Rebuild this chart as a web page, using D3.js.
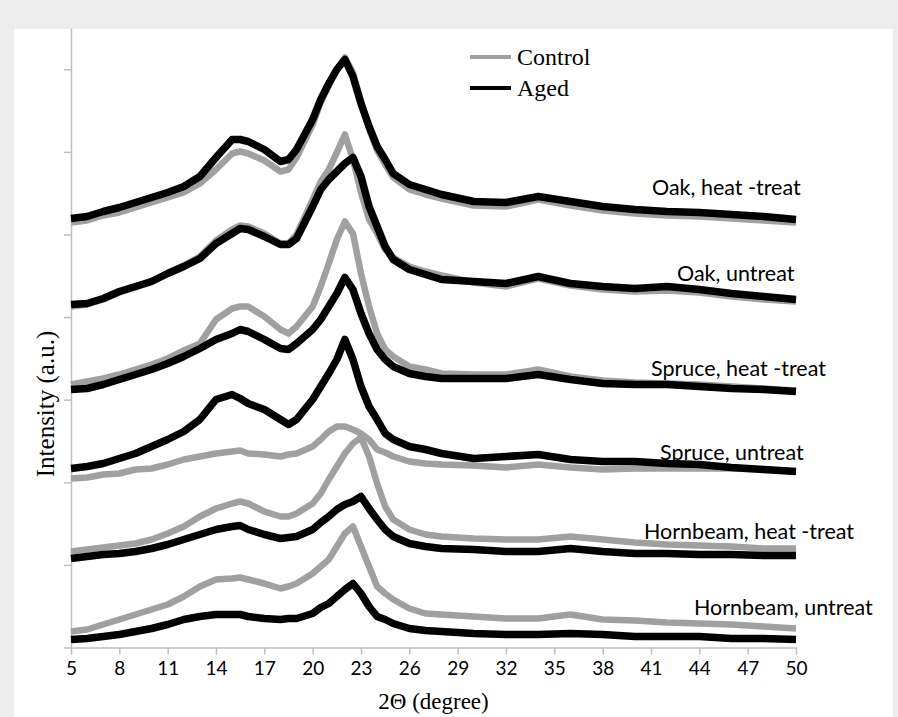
<!DOCTYPE html>
<html>
<head>
<meta charset="utf-8">
<script src="https://cdn.jsdelivr.net/npm/d3@7"></script>
<style>
  html, body { margin: 0; padding: 0; background: #ededed; }
  svg { display: block; }
</style>
</head>
<body>
<div id="chart"></div>
<script>
// 2θ positions (degree) shared by all patterns
const twoTheta = [5, 6, 7, 8, 9, 10, 11, 12, 13, 14, 15, 15.5, 16, 17, 18, 18.5, 19, 20, 20.5, 21, 21.5,
  22, 22.5, 23, 23.5, 24, 24.5, 25, 26, 27, 28, 30, 32, 34, 36, 38, 40, 42, 44, 46, 48, 50];

// intensity (a.u., stacked offsets included)
const oakHeatControl = [425, 427, 432, 435, 440, 445, 450, 455, 464, 478, 494, 496, 494, 487, 476, 478, 490, 523, 545, 562, 578,
  590, 575, 546, 519, 497, 483, 470, 458, 453, 449, 442, 441, 448, 442, 437, 434, 432, 431, 429, 427, 425];
const oakHeatAged = [429, 431, 436, 440, 445, 450, 455, 461, 471, 490, 508, 508, 506, 498, 486, 488, 498, 528, 548, 564, 578,
  588, 571, 544, 521, 501, 488, 474, 463, 458, 453, 446, 445, 451, 446, 441, 438, 436, 435, 433, 431, 428];

const oakUntreatControl = [341, 343, 348, 355, 360, 366, 374, 382, 391, 407, 418, 422, 421, 414, 404, 404, 413, 448, 466, 478, 495,
  513, 488, 455, 428, 414, 398, 390, 381, 376, 372, 365, 361, 369, 362, 358, 356, 357, 355, 351, 348, 346];
const oakUntreatAged = [343, 344, 349, 356, 361, 366, 374, 381, 389, 404, 414, 419, 418, 411, 403, 403, 409, 441, 458, 468, 476,
  484, 490, 471, 441, 421, 401, 388, 378, 373, 368, 366, 364, 371, 364, 361, 359, 361, 358, 354, 351, 348];

const spruceHeatControl = [263, 266, 269, 273, 278, 283, 289, 297, 304, 328, 339, 341, 341, 331, 318, 314, 321, 341, 361, 384, 408,
  426, 414, 374, 341, 314, 298, 291, 281, 278, 274, 273, 273, 278, 271, 267, 265, 264, 263, 261, 259, 257];
const spruceHeatAged = [258, 259, 263, 268, 273, 278, 284, 291, 299, 308, 314, 318, 316, 308, 299, 298, 304, 318, 328, 341, 354,
  370, 358, 334, 314, 298, 288, 281, 274, 271, 269, 269, 269, 273, 268, 264, 263, 263, 261, 259, 258, 256];

const spruceUntreatControl = [169, 170, 173, 174, 178, 179, 183, 188, 191, 194, 196, 197, 194, 193, 191, 193, 194, 201, 208, 216, 221,
  221, 218, 214, 208, 198, 195, 191, 186, 184, 183, 182, 180, 183, 180, 178, 179, 179, 179, 179, 178, 176];
const spruceUntreatAged = [179, 181, 184, 189, 194, 201, 208, 216, 228, 248, 253, 249, 244, 238, 228, 223, 228, 248, 261, 274, 288,
  308, 288, 261, 241, 228, 214, 208, 201, 198, 194, 189, 191, 193, 188, 186, 186, 184, 183, 180, 178, 176];

const hornbeamHeatControl = [96, 98, 100, 102, 104, 108, 114, 121, 131, 139, 144, 146, 144, 136, 131, 131, 134, 144, 154, 168, 181,
  194, 204, 210, 191, 164, 141, 128, 118, 113, 111, 109, 108, 108, 111, 108, 105, 103, 102, 101, 99, 99];
const hornbeamHeatAged = [89, 91, 93, 94, 96, 99, 103, 108, 113, 118, 121, 122, 118, 113, 109, 110, 111, 118, 125, 131, 138,
  143, 146, 151, 139, 128, 118, 111, 104, 101, 99, 98, 96, 96, 99, 96, 94, 94, 93, 93, 92, 92];

const hornbeamUntreatControl = [16, 18, 23, 28, 33, 38, 43, 51, 61, 68, 69, 70, 68, 64, 59, 61, 64, 74, 81, 88, 101,
  114, 121, 101, 81, 61, 54, 48, 39, 34, 33, 31, 29, 29, 33, 28, 27, 25, 24, 23, 21, 19];
const hornbeamUntreatAged = [8, 9, 11, 13, 16, 19, 23, 28, 31, 33, 33, 33, 31, 29, 28, 29, 29, 34, 40, 44, 51,
  58, 64, 54, 41, 31, 28, 24, 19, 17, 16, 14, 13, 13, 14, 13, 11, 11, 11, 9, 9, 8];

const sampleNames = ["Oak, heat -treat", "Oak, untreat", "Spruce, heat -treat",
  "Spruce, untreat", "Hornbeam, heat -treat", "Hornbeam, untreat"];
const controlSeries = [oakHeatControl, oakUntreatControl, spruceHeatControl,
  spruceUntreatControl, hornbeamHeatControl, hornbeamUntreatControl];
const agedSeries = [oakHeatAged, oakUntreatAged, spruceHeatAged,
  spruceUntreatAged, hornbeamHeatAged, hornbeamUntreatAged];
const legendNames = ["Control", "Aged"];
const xTicks = d3.range(5, 51, 3);

const width = 898, height = 717;
const colors = { Control: "#a0a0a0", Aged: "#000000" };
const axisColor = "#bfbfbf";

// label anchors (left x, baseline y) in px
const labelPos = [[652, 195], [677, 281], [651, 376], [660, 460], [644, 539], [694, 615]];

const svg = d3.select("#chart").append("svg")
  .attr("width", width)
  .attr("height", height);

svg.append("rect")
  .attr("x", 14).attr("y", 29)
  .attr("width", 879).attr("height", height - 29)
  .attr("fill", "#fff");

const x = d3.scaleLinear().domain([5, 50]).range([71, 796]);
const y = d3.scaleLinear().domain([0, 619.5]).range([647.5, 28]);
const yTickStep = 82.6; // unlabelled major unit

// axes
const xAxis = svg.append("g")
  .attr("transform", `translate(0,${y(0)})`)
  .call(d3.axisBottom(x).tickValues(xTicks).tickSize(7).tickSizeOuter(0).tickPadding(7));
xAxis.select(".domain").attr("stroke", axisColor).attr("stroke-width", 1.5);
xAxis.selectAll(".tick line").attr("stroke", axisColor).attr("stroke-width", 1.5);
xAxis.selectAll(".tick text")
  .attr("fill", "#000")
  .style("font-family", "Lato, sans-serif")
  .style("font-size", "19px");

const yAxis = svg.append("g")
  .attr("transform", `translate(${x(5)},0)`)
  .call(d3.axisLeft(y).tickValues(d3.range(0, 8).map(i => i * yTickStep))
    .tickSize(7).tickSizeOuter(0).tickFormat(""));
yAxis.select(".domain").attr("stroke", axisColor).attr("stroke-width", 1.5);
yAxis.selectAll(".tick line").attr("stroke", axisColor).attr("stroke-width", 1.5);

// curves
const line = d3.line()
  .x((d, i) => x(twoTheta[i]))
  .y(d => y(d));

const plot = svg.append("g");
plot.selectAll(".control")
  .data(controlSeries)
  .join("path")
  .attr("class", "control")
  .attr("d", line)
  .attr("fill", "none")
  .attr("stroke", colors.Control)
  .attr("stroke-width", 6.5)
  .attr("stroke-linejoin", "round");

plot.selectAll(".aged")
  .data(agedSeries)
  .join("path")
  .attr("class", "aged")
  .attr("d", line)
  .attr("fill", "none")
  .attr("stroke", colors.Aged)
  .attr("stroke-width", 7.5)
  .attr("stroke-linejoin", "round");

// sample labels
svg.selectAll(".sample-label")
  .data(sampleNames)
  .join("text")
  .attr("class", "sample-label")
  .attr("x", (d, i) => labelPos[i][0])
  .attr("y", (d, i) => labelPos[i][1])
  .style("font-family", "Lato, sans-serif")
  .style("font-size", "21.5px")
  .attr("fill", "#000")
  .text(d => d);

// legend
const legend = svg.append("g").attr("transform", "translate(470,57)");
legendNames.forEach((name, i) => {
  const g = legend.append("g").attr("transform", `translate(0,${i * 31})`);
  g.append("line")
    .attr("x1", 0).attr("x2", 41)
    .attr("stroke", colors[name])
    .attr("stroke-width", 4);
  g.append("text")
    .attr("x", 47).attr("y", 8)
    .style("font-family", "'Liberation Serif', 'Times New Roman', serif")
    .style("font-size", "24px")
    .attr("fill", "#000")
    .text(name);
});

// axis titles
svg.append("text")
  .attr("x", (x(5) + x(50)) / 2)
  .attr("y", 709)
  .attr("text-anchor", "middle")
  .style("font-family", "'Liberation Serif', 'Times New Roman', serif")
  .style("font-size", "23px")
  .text("2Θ (degree)");

svg.append("text")
  .attr("transform", "rotate(-90)")
  .attr("x", -404)
  .attr("y", 54)
  .attr("text-anchor", "middle")
  .style("font-family", "'Liberation Serif', 'Times New Roman', serif")
  .style("font-size", "25px")
  .text("Intensity (a.u.)");
</script>
</body>
</html>
